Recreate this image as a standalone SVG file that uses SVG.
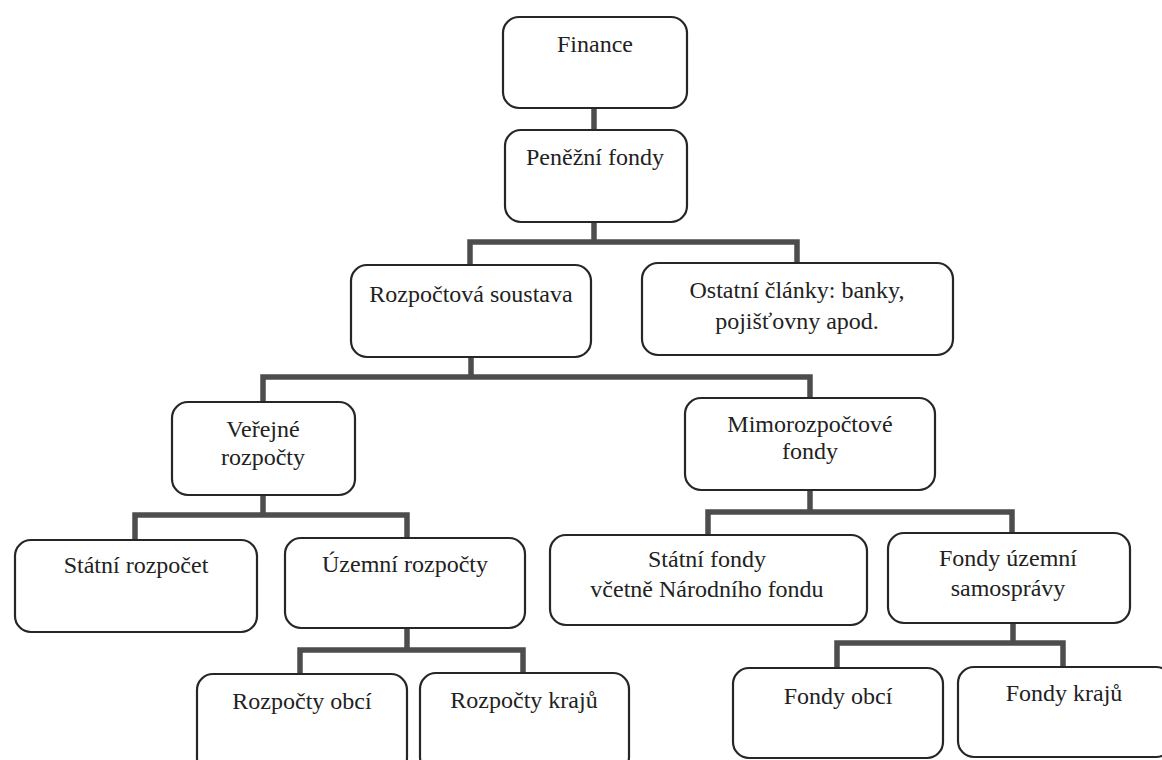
<svg xmlns="http://www.w3.org/2000/svg" width="1162" height="760" viewBox="0 0 1162 760">
<style>
.box{fill:#fff;stroke:#262626;stroke-width:2.2}
.t{font-family:"Liberation Serif","DejaVu Serif","Times New Roman",serif;font-size:24px;fill:#222;text-anchor:middle}
.c{fill:none;stroke:#4d4d4d;stroke-width:5.5;stroke-linejoin:miter}
</style>
<rect width="1162" height="760" fill="#fff"/>
<g id="connectors">
<path class="c" d="M594,108V130"/>
<path class="c" d="M594,222V242M470,264V242H797V264"/>
<path class="c" d="M471,357V377M263,402V377H810V398"/>
<path class="c" d="M263,495V515M135,540V515H407V538"/>
<path class="c" d="M407,628V650M300,674V650H523V673"/>
<path class="c" d="M810,490V512M708,535V512H1012V533"/>
<path class="c" d="M1013,623V643M837,668V643H1063V667"/>
</g>
<g id="n-finance"><rect class="box" x="503" y="17" width="184" height="91" rx="16"/><text class="t" x="595" y="52">Finance</text></g>
<g id="n-penezni"><rect class="box" x="505" y="130" width="182" height="92" rx="16"/><text class="t" x="595" y="165">Peněžní fondy</text></g>
<g id="n-rozpoctova"><rect class="box" x="351" y="265" width="240" height="92" rx="16"/><text class="t" x="471" y="302">Rozpočtová soustava</text></g>
<g id="n-ostatni"><rect class="box" x="642" y="263" width="311" height="92" rx="16"/><text class="t" x="797" y="298">Ostatní články: banky,</text><text class="t" x="797" y="329">pojišťovny apod.</text></g>
<g id="n-verejne"><rect class="box" x="172" y="402" width="183" height="93" rx="16"/><text class="t" x="263" y="437">Veřejné</text><text class="t" x="263" y="465">rozpočty</text></g>
<g id="n-mimo"><rect class="box" x="685" y="398" width="250" height="92" rx="16"/><text class="t" x="810" y="432">Mimorozpočtové</text><text class="t" x="810" y="459">fondy</text></g>
<g id="n-statni-rozpocet"><rect class="box" x="15" y="540" width="242" height="92" rx="16"/><text class="t" x="136" y="573">Státní rozpočet</text></g>
<g id="n-uzemni"><rect class="box" x="285" y="538" width="240" height="90" rx="16"/><text class="t" x="405" y="572">Územní rozpočty</text></g>
<g id="n-statni-fondy"><rect class="box" x="550" y="535" width="317" height="90" rx="16"/><text class="t" x="707" y="567">Státní fondy</text><text class="t" x="707" y="597">včetně Národního fondu</text></g>
<g id="n-fondy-uzemni"><rect class="box" x="888" y="533" width="242" height="90" rx="16"/><text class="t" x="1008" y="566">Fondy územní</text><text class="t" x="1008" y="596">samosprávy</text></g>
<g id="n-rozpocty-obci"><rect class="box" x="197" y="674" width="210" height="100" rx="16"/><text class="t" x="302" y="709">Rozpočty obcí</text></g>
<g id="n-rozpocty-kraju"><rect class="box" x="420" y="673" width="209" height="100" rx="16"/><text class="t" x="524" y="708">Rozpočty krajů</text></g>
<g id="n-fondy-obci"><rect class="box" x="733" y="668" width="210" height="90" rx="16"/><text class="t" x="838" y="704">Fondy obcí</text></g>
<g id="n-fondy-kraju"><rect class="box" x="958" y="667" width="214" height="90" rx="16"/><text class="t" x="1064" y="701">Fondy krajů</text></g>
</svg>
